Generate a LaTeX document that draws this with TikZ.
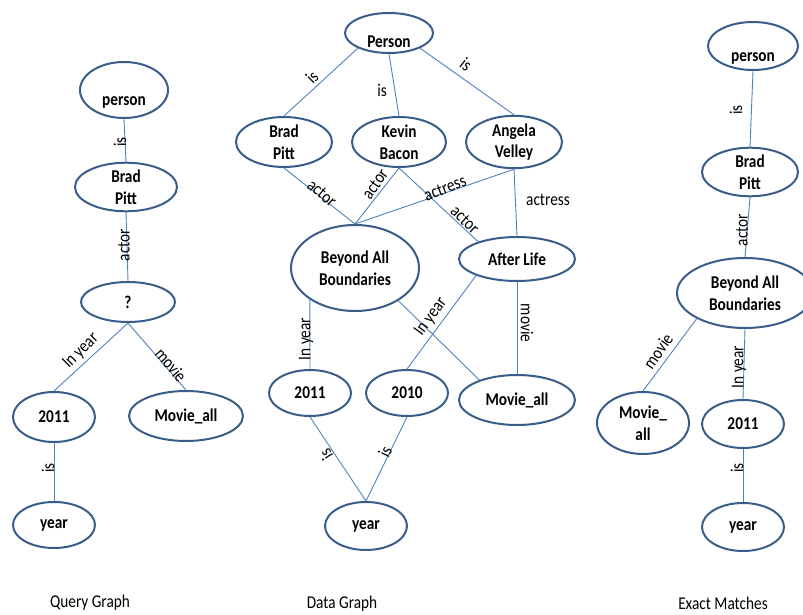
\documentclass[tikz,border=0pt]{standalone}
\usepackage{fontspec}
\setmainfont{Carlito}[FakeStretch=0.85]
\usetikzlibrary{shapes.geometric}
\definecolor{ellc}{RGB}{56,93,138}
\definecolor{linec}{RGB}{79,129,189}
\begin{document}
\begin{tikzpicture}[x=1pt,y=-1pt,
  ent/.style={ellipse, draw=ellc, line width=2pt, inner sep=0pt, align=center,
    font=\fontsize{18}{21.6}\selectfont\bfseries},
  sz/.style 2 args={minimum width=#1pt, minimum height=#2pt},
  edge/.style={draw=linec, line width=0.9pt},
  lbl/.style={font=\fontsize{18}{21.6}\selectfont, inner sep=0pt},
  low/.style={label={[font=\fontsize{18}{21.6}\selectfont\bfseries, inner sep=0pt, yshift=-#1pt]center:person}},
  captxt/.style={font=\fontsize{18}{21.6}\selectfont, inner sep=0pt}]
\useasboundingbox (0,0) rectangle (803,615);
\clip (0,0) rectangle (803,615);

% ---------- query graph ----------
\node[ent, sz={88}{56}, low=12] (qperson) at (124,90) {};
\node[ent, sz={102}{48}] (qbrad) at (126,187) {Brad\\Pitt};
\node[ent, sz={94}{40}] (qq) at (128,302) {?};
\node[ent, sz={82}{50}] (q2011) at (54,417) {2011};
\node[ent, sz={114}{50}] (qmovie) at (186,416) {Movie\_all};
\node[ent, sz={82}{46}] (qyear) at (54,525) {year};

\draw[edge] (qperson.south) -- (qbrad.north);
\draw[edge] (qbrad.south) -- (qq.north);
\draw[edge] (qq.south) -- (q2011.north);
\draw[edge] (qq.south) -- (qmovie.north);
\draw[edge] (q2011.south) -- (qyear.north);

\node[lbl, rotate=90] (lq1) at (120,142) {is};
\node[lbl, rotate=90] (lq2) at (124,245) {actor};
\node[lbl, rotate=44.6] (lq3) at (81,351) {In year};
\node[lbl, rotate=-50] (lq4) at (171,365) {movie};
\node[lbl, rotate=90] (lq5) at (48,468) {is};

% ---------- data graph ----------
\node[ent, sz={88}{40}, label={[font=\fontsize{18}{21.6}\selectfont\bfseries, inner sep=0pt, yshift=-9pt]center:Person}] (dperson) at (389,33) {};
\node[ent, sz={96}{50}] (dbrad) at (284,142) {Brad\\Pitt};
\node[ent, sz={94}{50}] (dkevin) at (399,142) {Kevin\\Bacon};
\node[ent, sz={96}{50}] (dangela) at (514,142) {Angela\\Velley};
\node[ent, sz={128}{86}] (dbeyond) at (355,268) {Beyond All\\Boundaries};
\node[ent, sz={116}{44}] (dafter) at (517,259) {After Life};
\node[ent, sz={82}{46}] (d2011) at (310,393) {2011};
\node[ent, sz={82}{46}] (d2010) at (407,393) {2010};
\node[ent, sz={116}{50}] (dmovie) at (517,400) {Movie\_all};
\node[ent, sz={82}{48}] (dyear) at (366,526) {year};

\draw[edge] (dperson.206) -- (dbrad.north);
\draw[edge] (dperson.south) -- (dkevin.north);
\draw[edge] (dperson.334) -- (dangela.north);
\draw[edge] (dbrad.south) -- (dbeyond.north);
\draw[edge] (dkevin.south) -- (dbeyond.north);
\draw[edge] (dangela.south) -- (dbeyond.north);
\draw[edge] (dkevin.south) -- (dafter.156);
\draw[edge] (dangela.south) -- (dafter.north);
\draw[edge] (dbeyond.215) -- (d2011.north);
\draw[edge] (dafter.202) -- (d2010.north);
\draw[edge] (dbeyond.323) -- (dmovie.152);
\draw[edge] (dafter.south) -- (dmovie.north);
\draw[edge] (d2011.south) -- (dyear.north);
\draw[edge] (d2010.south) -- (dyear.north);

\node[lbl, rotate=44.6] (ld1) at (312,77) {is};
\node[lbl] (ld2) at (382,90) {is};
\node[lbl, rotate=-37.2] (ld3) at (466,64) {is};
\node[lbl, rotate=-39.7] (ld4) at (322,193) {actor};
\node[lbl, rotate=55.2] (ld5) at (375,184) {actor};
\node[lbl, rotate=21.2] (ld6) at (445,188) {actress};
\node[lbl, rotate=-44.2] (ld7) at (465,220) {actor};
\node[lbl] (ld8) at (548,200) {actress};
\node[lbl, rotate=90] (ld9) at (306,339) {In year};
\node[lbl, rotate=53.5] (ld10) at (431,317) {In year};
\node[lbl, rotate=-90] (ld11) at (527,323) {movie};
\node[lbl, rotate=122.4] (ld12) at (326,455) {is};
\node[lbl, rotate=64.8] (ld13) at (385,452) {is};

% ---------- exact matches ----------
\node[ent, sz={90}{48}, low=12] (eperson) at (753,46) {};
\node[ent, sz={96}{48}] (ebrad) at (750,172) {Brad\\Pitt};
\node[ent, sz={136}{70}] (ebeyond) at (745,293) {Beyond All\\Boundaries};
\node[ent, sz={92}{62}] (emovie) at (643,423) {Movie\_\\all};
\node[ent, sz={82}{48}] (e2011) at (743,424) {2011};
\node[ent, sz={82}{48}] (eyear) at (743,527) {year};

\draw[edge] (eperson.south) -- (ebrad.north);
\draw[edge] (ebrad.south) -- (ebeyond.north);
\draw[edge] (ebeyond.208) -- (emovie.north);
\draw[edge] (ebeyond.south) -- (e2011.north);
\draw[edge] (e2011.south) -- (eyear.north);

\node[lbl, rotate=90] (le1) at (736,110) {is};
\node[lbl, rotate=90] (le2) at (742,230) {actor};
\node[lbl, rotate=55.2] (le3) at (658,351) {movie};
\node[lbl, rotate=90] (le4) at (739,367) {In year};
\node[lbl, rotate=90] (le5) at (737,468) {is};

% ---------- captions ----------
\node[captxt] (capq) at (90,603) {Query Graph};
\node[captxt] (capd) at (342,604) {Data Graph};
\node[captxt] (cape) at (723,603) {Exact Matches};
\end{tikzpicture}
\end{document}
